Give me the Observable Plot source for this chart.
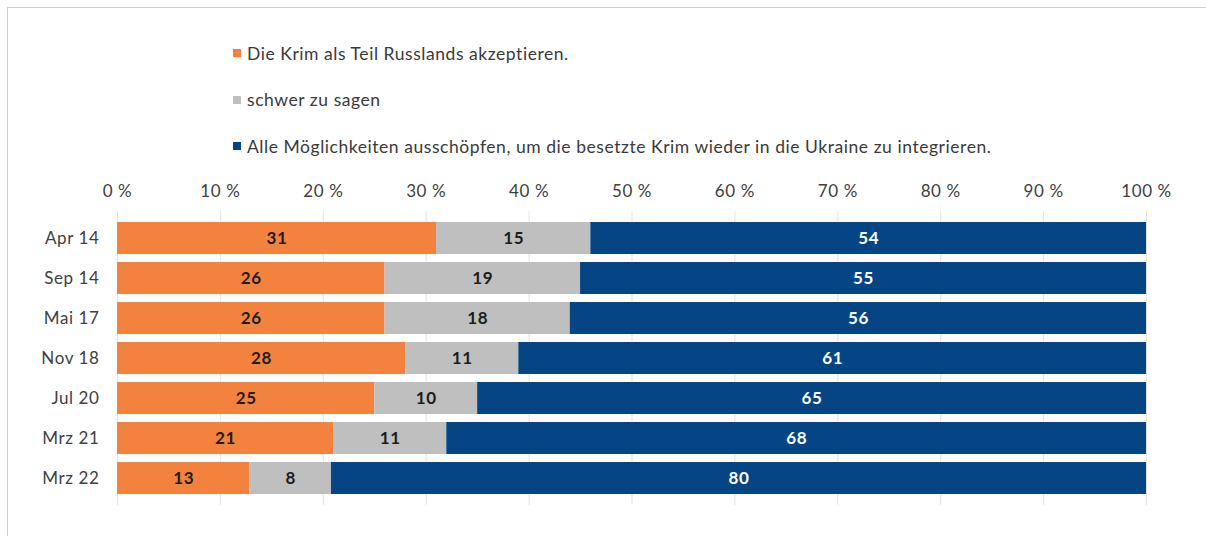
<!DOCTYPE html>
<html>
<head>
<meta charset="utf-8">
<script src="https://cdn.jsdelivr.net/npm/d3@7"></script>
<script src="https://cdn.jsdelivr.net/npm/@observablehq/plot@0.6"></script>
<style>
  html, body { margin: 0; padding: 0; background: #fff; }
  body { width: 1206px; height: 536px; position: relative; overflow: hidden; font-family: Lato, "Open Sans", sans-serif; }
  #frame { position: absolute; left: 7px; top: 7px; right: 0; bottom: 0; border-left: 1.5px solid #d0d0d0; border-top: 1.5px solid #d0d0d0; }
  #legend { position: absolute; left: 233px; top: 30px; }
  .item { height: 46.5px; display: flex; align-items: center; font-size: 17.5px; letter-spacing: 0.55px; color: #3a3a3a; white-space: nowrap; }
  .sw { width: 8px; height: 8px; margin-right: 6px; flex: none; }
  #chart { position: absolute; left: 0; top: 165px; }
</style>
</head>
<body>
<div id="frame"></div>
<div id="legend"></div>
<div id="chart"></div>
<script>
const dates = ["Apr 14", "Sep 14", "Mai 17", "Nov 18", "Jul 20", "Mrz 21", "Mrz 22"];
const seriesNames = [
  "Die Krim als Teil Russlands akzeptieren.",
  "schwer zu sagen",
  "Alle Möglichkeiten ausschöpfen, um die besetzte Krim wieder in die Ukraine zu integrieren."
];
const accept = [31, 26, 26, 28, 25, 21, 13];
const unsure = [15, 19, 18, 11, 10, 11, 8];
const reintegrate = [54, 55, 56, 61, 65, 68, 80];
const ticks = [0, 10, 20, 30, 40, 50, 60, 70, 80, 90, 100];
const colors = ["#F4823F", "#BFBFBF", "#064584"];

const valuesBySeries = [accept, unsure, reintegrate];
const data = [];
dates.forEach((d, i) => {
  seriesNames.forEach((s, j) => data.push({date: d, series: s, value: valuesBySeries[j][i]}));
});

// legend
const legend = d3.select("#legend");
seriesNames.forEach((s, j) => {
  const it = legend.append("div").attr("class", "item");
  it.append("div").attr("class", "sw").style("background", colors[j]);
  it.append("span").text(s);
});

const stackOpts = {x: "value", y: "date", z: "series", offset: "normalize", order: seriesNames};

const chart = Plot.plot({
  width: 1206,
  height: 371,
  marginLeft: 117,
  marginRight: 60,
  marginTop: 46,
  marginBottom: 31,
  style: {fontFamily: "Lato, 'Open Sans', sans-serif", background: "transparent", letterSpacing: "0.6px"},
  x: {domain: [0, 1], axis: null},
  y: {domain: dates, padding: 0.2, axis: null},
  color: {domain: seriesNames, range: colors},
  marks: [
    Plot.ruleX(ticks.map(t => t / 100), {stroke: "#e3e3e3", strokeWidth: 1}),
    Plot.barX(data, Plot.stackX({...stackOpts, fill: "series"})),
    Plot.text(data, Plot.stackX({
      ...stackOpts,
      text: d => String(d.value),
      fill: d => d.series === seriesNames[2] ? "#ffffff" : "#1c1c1c",
      fontSize: 17,
      fontWeight: "bold"
    })),
    Plot.axisX(ticks.map(t => t / 100), {
      anchor: "top", tickSize: 0, tickPadding: 15,
      tickFormat: d => `${Math.round(d * 100)} %`,
      fontSize: 17, fill: "#404040", label: null
    }),
    Plot.axisY({
      anchor: "left", tickSize: 0, tickPadding: 18,
      fontSize: 17, fill: "#404040", label: null
    })
  ]
});
document.getElementById("chart").appendChild(chart);
</script>
</body>
</html>
